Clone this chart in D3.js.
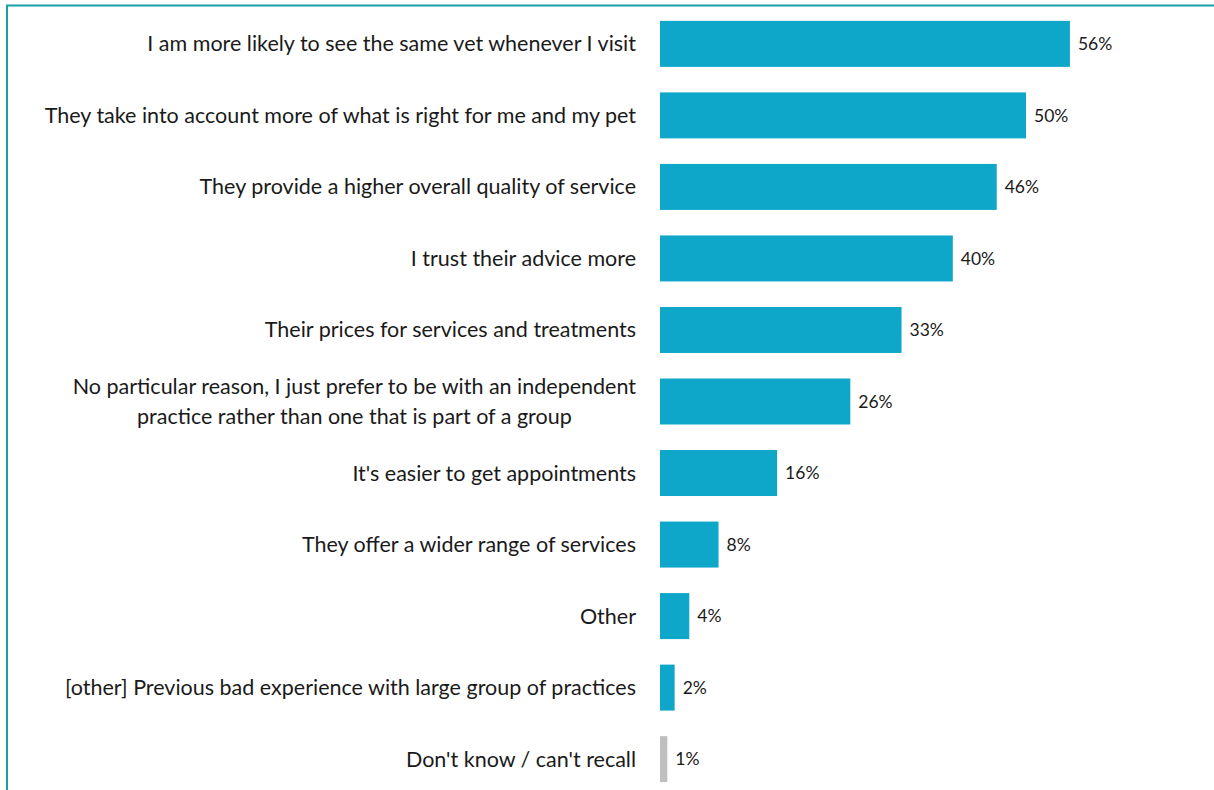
<!DOCTYPE html>
<html>
<head>
<meta charset="utf-8">
<script src="https://cdn.jsdelivr.net/npm/d3@7"></script>
<style>
  html, body { margin: 0; padding: 0; background: #ffffff; }
  svg { display: block; }
</style>
</head>
<body>
<svg id="chart" width="1214" height="790"></svg>
<script>
// Reasons for preferring an independent practice (% of respondents)
const categories = [
  "I am more likely to see the same vet whenever I visit",
  "They take into account more of what is right for me and my pet",
  "They provide a higher overall quality of service",
  "I trust their advice more",
  "Their prices for services and treatments",
  "No particular reason, I just prefer to be with an independent\npractice rather than one that is part of a group",
  "It's easier to get appointments",
  "They offer a wider range of services",
  "Other",
  "[other] Previous bad experience with large group of practices",
  "Don't know / can't recall"
];
const values = [56, 50, 46, 40, 33, 26, 16, 8, 4, 2, 1];
const neutralCategories = ["Don't know / can't recall"];

const W = 1214, H = 790;
const svg = d3.select("#chart");
const fontFamily = "Lato, 'Open Sans', sans-serif";

// frame around the chart area (continues past the right and bottom edges)
svg.append("rect")
  .attr("x", 7).attr("y", 5.5)
  .attr("width", W + 20).attr("height", H + 20)
  .attr("fill", "none")
  .attr("stroke", "#17A2A6")
  .attr("stroke-width", 2);

const x = d3.scaleLinear().domain([0, 100]).range([660, 660 + 732]);
const y = d3.scaleBand().domain(categories).range([8, 795])
  .paddingInner(0.357).paddingOuter(0.18);

const rows = categories.map((c, i) => ({ cat: c, val: values[i] }));

const barColor = "#0EA6C9";
const neutralColor = "#BFBFBF";

svg.append("g").selectAll("rect")
  .data(rows)
  .join("rect")
  .attr("x", x(0))
  .attr("y", d => y(d.cat))
  .attr("width", d => x(d.val) - x(0))
  .attr("height", y.bandwidth())
  .attr("fill", d => neutralCategories.includes(d.cat) ? neutralColor : barColor);

// value labels
svg.append("g").selectAll("text")
  .data(rows)
  .join("text")
  .attr("x", d => x(d.val) + 8)
  .attr("y", d => y(d.cat) + y.bandwidth() / 2)
  .attr("dy", "0.35em")
  .attr("font-family", fontFamily)
  .attr("font-size", 17.5)
  .attr("fill", "#1a1a1a")
  .text(d => d.val + "%");

// category labels, right-aligned against the bars
const labelFont = 21.5;
const lineGap = 30;
const labels = svg.append("g").selectAll("text")
  .data(rows)
  .join("text")
  .attr("text-anchor", "end")
  .attr("font-family", fontFamily)
  .attr("font-size", labelFont)
  .attr("fill", "#1a1a1a");

labels.each(function(d) {
  const lines = d.cat.split("\n");
  const cy = y(d.cat) + y.bandwidth() / 2;
  const t = d3.select(this);
  lines.forEach((ln, i) => {
    t.append("tspan")
      .attr("x", 636)
      .attr("y", cy + (i - (lines.length - 1) / 2) * lineGap)
      .attr("dy", "0.35em")
      .attr("text-anchor", lines.length > 1 ? "middle" : "end")
      .text(ln);
  });
});

// multi-line labels are centred on their widest line, which ends at the bar gap
labels.filter(d => d.cat.includes("\n")).each(function() {
  const spans = d3.select(this).selectAll("tspan").nodes();
  const widest = d3.max(spans, s => s.getComputedTextLength());
  spans.forEach(s => d3.select(s).attr("x", 636 - widest / 2));
});
</script>
</body>
</html>
